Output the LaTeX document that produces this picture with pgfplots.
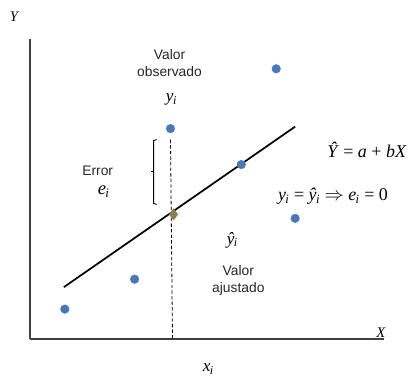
\documentclass[border=0pt]{standalone}
\usepackage{pgfplots}
\pgfplotsset{compat=1.18}
\usepackage{fontspec}
\setmainfont{Liberation Sans}
\newfontfamily\tms{Liberation Serif}
\newcommand\vi[1]{\textit{#1}\textsubscript{\kern-0.05em\textit{i}}}
\definecolor{ptblue}{HTML}{4A78B5}
\definecolor{olive}{HTML}{8C7E4A}
\begin{document}
\begin{tikzpicture}
\begin{axis}[
  scale only axis, width=266.25pt, height=225.75pt,
  xmin=30, xmax=385, ymin=41, ymax=342,
  axis lines=left, axis line style={-, draw=black!75, line width=0.9pt},
  xtick=\empty, ytick=\empty, clip=false,
]
\path (axis cs:0,0) rectangle (axis cs:411,381);
% regression line
\addplot[black, line width=1.3pt, no marks] coordinates {(64,93) (296,254)};
% dashed vertical
\addplot[black, dash pattern=on 2.6pt off 1.6pt, line width=0.6pt, no marks] coordinates {(171,241) (173,41)};
% observations
\addplot[only marks, mark=*, mark size=3.2pt, ptblue, mark options={draw=ptblue, fill=ptblue}]
  coordinates {(65,71) (135,101) (171,252) (242,216) (277,312) (296,162)};
% fitted point
\addplot[only marks, mark=diamond*, mark size=4.2pt, olive, mark options={draw=olive, fill=olive}]
  coordinates {(174,166)};
% bracket
\draw[black, line width=0.7pt] (axis cs:157,241) -- (axis cs:154,240) -- (axis cs:154,177) -- (axis cs:157,176);
\draw[black, line width=0.7pt] (axis cs:154,209) -- (axis cs:151,209);
% labels
\node[font=\tms\itshape\fontsize{11}{12}\selectfont] at (axis cs:14,364) {Y};
\node[font=\tms\itshape\fontsize{11}{12}\selectfont] at (axis cs:382,47) {X};
\node[font=\tms\fontsize{13}{14}\selectfont] at (axis cs:209,11) {\vi{x}};
\node[font=\fontsize{10.4}{12.8}\selectfont, align=center, text=black!85] at (axis cs:170,318) {Valor\\observado};
\node[font=\tms\fontsize{13}{14}\selectfont] at (axis cs:172,281) {\vi{y}};
\node[font=\fontsize{10.4}{12.8}\selectfont, text=black!85] at (axis cs:98,210) {Error};
\node[font=\tms\fontsize{14}{15}\selectfont, inner sep=1pt] at (axis cs:104,189) {\vi{e}};
\node[font=\tms\fontsize{13.5}{14}\selectfont] at (axis cs:368,231) {\textit{\^{Y}} = \textit{a} + \textit{bX}};
\node[font=\tms\fontsize{13.5}{14}\selectfont] at (axis cs:334,184) {\vi{y} = \vi{\^{y}} $\Rightarrow$ \vi{e} = 0};
\node[font=\tms\fontsize{13}{14}\selectfont] at (axis cs:233,140) {\vi{\^{y}}};
\node[font=\fontsize{10.4}{12.8}\selectfont, align=center, text=black!85] at (axis cs:239,100) {Valor\\ajustado};
\end{axis}
\end{tikzpicture}
\end{document}
